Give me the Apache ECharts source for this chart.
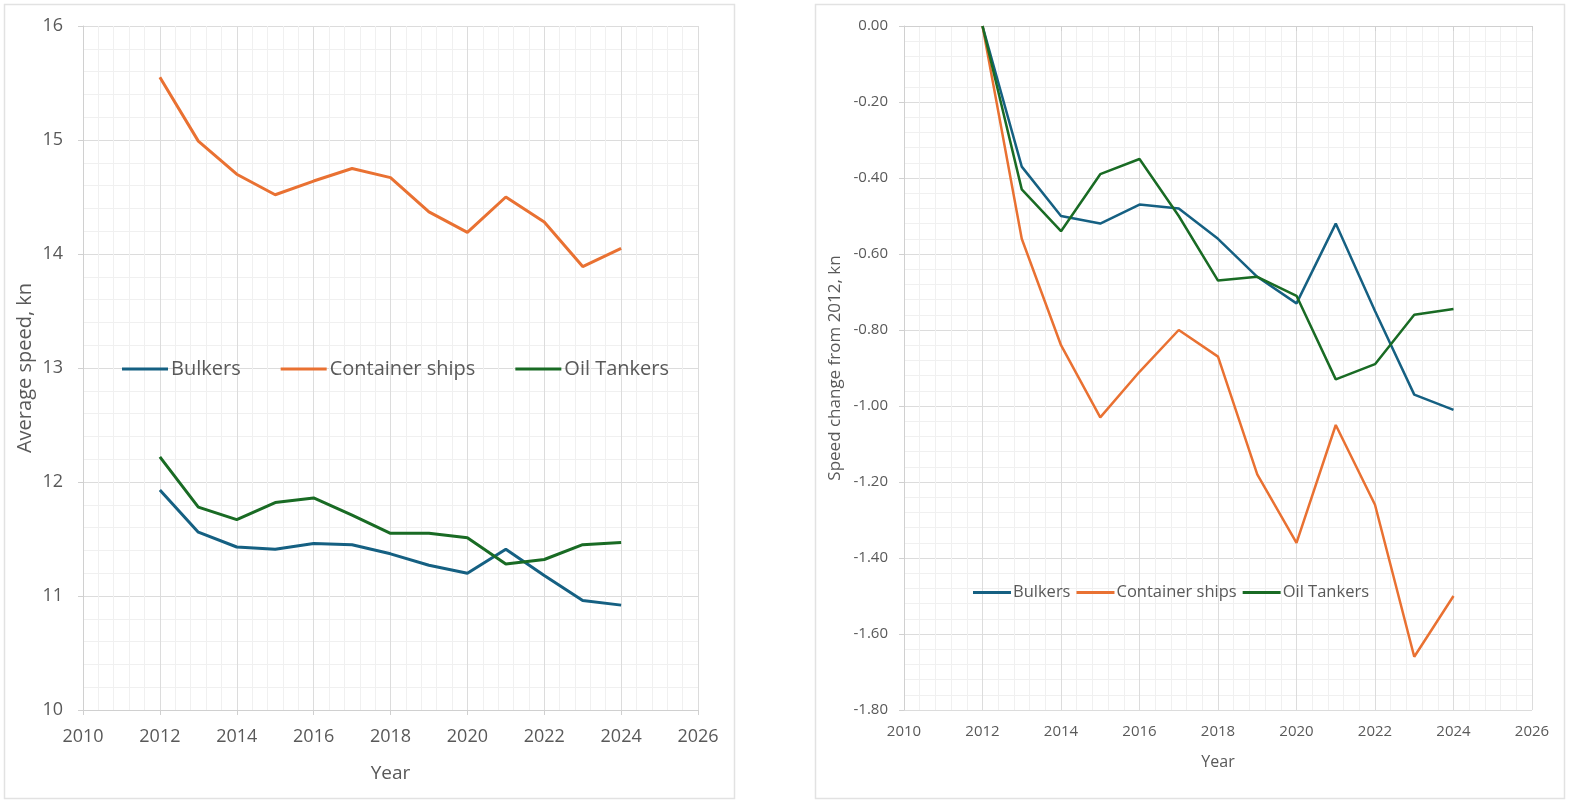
<!DOCTYPE html>
<html>
<head>
<meta charset="utf-8">
<script src="https://cdn.jsdelivr.net/npm/echarts@6/dist/echarts.min.js"></script>
<style>
html,body{margin:0;padding:0;background:#fff;}
#c{width:1576px;height:812px;}
</style>
</head>
<body>
<div id="c"></div>
<script>
const years = [2012,2013,2014,2015,2016,2017,2018,2019,2020,2021,2022,2023,2024];
const seriesNames = ['Bulkers','Container ships','Oil Tankers'];

// Left chart: average speed, kn
const bulkersSpeed   = [11.93,11.56,11.43,11.41,11.46,11.45,11.37,11.27,11.20,11.41,11.18,10.96,10.92];
const containerSpeed = [15.55,14.99,14.70,14.52,14.64,14.75,14.67,14.37,14.19,14.50,14.28,13.89,14.05];
const tankerSpeed    = [12.22,11.78,11.67,11.82,11.86,11.71,11.55,11.55,11.51,11.28,11.32,11.45,11.47];

// Right chart: speed change from 2012, kn
const bulkersChange   = [0,-0.37,-0.50,-0.52,-0.47,-0.48,-0.56,-0.66,-0.73,-0.52,-0.75,-0.97,-1.01];
const containerChange = [0,-0.56,-0.84,-1.03,-0.91,-0.80,-0.87,-1.18,-1.36,-1.05,-1.26,-1.66,-1.50];
const tankerChange    = [0,-0.43,-0.54,-0.39,-0.35,-0.50,-0.67,-0.66,-0.71,-0.93,-0.89,-0.76,-0.745];

const colors = ['#156082','#E97132','#196B24'];
const txt = '#595959';
const font = 'Open Sans';

const pairs = vals => years.map((y,i)=>[y, vals[i]]);

function xAxis(gridIndex, fs, margin, nameGap, nameFs){
  return {
    type:'value', gridIndex, min:2010, max:2026, interval:2,
    name:'Year', nameLocation:'middle', nameGap,
    nameTextStyle:{color:txt, fontSize:nameFs, fontFamily:font},
    axisLine:{show:true, lineStyle:{color:'#d0d0d0', width:1}},
    axisTick:{show:true, length:5, lineStyle:{color:'#d0d0d0'}},
    axisLabel:{color:txt, fontSize:fs, fontFamily:font, margin, formatter:v=>String(v)},
    splitLine:{show:true, lineStyle:{color:'#dcdcdc', width:1}},
    minorTick:{show:false, splitNumber:5},
    minorSplitLine:{show:true, lineStyle:{color:'#f0f0f0', width:1}}
  };
}
function yAxis(gridIndex, min, max, interval, name, fs, margin, nameGap, nameFs, fmt){
  return {
    type:'value', gridIndex, min, max, interval,
    name, nameLocation:'middle', nameGap,
    nameTextStyle:{color:txt, fontSize:nameFs, fontFamily:font},
    axisLine:{show:true, lineStyle:{color:'#d0d0d0', width:1}},
    axisTick:{show:true, length:5, lineStyle:{color:'#d0d0d0'}},
    axisLabel:{color:txt, fontSize:fs, fontFamily:font, margin, formatter:fmt},
    splitLine:{show:true, lineStyle:{color:'#dcdcdc', width:1}},
    minorTick:{show:false, splitNumber:5},
    minorSplitLine:{show:true, lineStyle:{color:'#f0f0f0', width:1}}
  };
}
function line(name, data, idx, width){
  const ci = seriesNames.indexOf(name);
  return {
    type:'line', name, data, xAxisIndex:idx, yAxisIndex:idx,
    showSymbol:false, symbol:'none',
    lineStyle:{color:colors[ci], width},
    itemStyle:{color:colors[ci]},
    z:3, animation:false
  };
}

const chart = echarts.init(document.getElementById('c'), null, {renderer:'canvas'});
chart.setOption({
  backgroundColor:'#fff',
  animation:false,
  graphic:[
    {type:'rect', shape:{x:4.5,y:4.5,width:730,height:794}, style:{fill:'none', stroke:'#e2e2e2', lineWidth:1.5}, z:-10},
    {type:'rect', shape:{x:815.5,y:4.5,width:749,height:794}, style:{fill:'none', stroke:'#e2e2e2', lineWidth:1.5}, z:-10}
  ],
  grid:[
    {left:83, right:878, top:26, bottom:102},
    {left:904, right:44, top:26, bottom:102}
  ],
  legend:[
    {
      data:seriesNames.map(n=>({name:n, icon:'rect'})),
      left:117, top:354, orient:'horizontal',
      itemWidth:46, itemHeight:3, itemGap:40,
      textStyle:{color:txt, fontSize:20, fontFamily:font, padding:[0,0,0,-2]},
      selectedMode:false
    },
    {
      data:seriesNames.map(n=>({name:n, icon:'rect'})),
      left:968, top:579, orient:'horizontal',
      itemWidth:38, itemHeight:3, itemGap:6,
      textStyle:{color:txt, fontSize:16.5, fontFamily:font, padding:[0,0,0,-3]},
      selectedMode:false
    }
  ],
  xAxis:[
    xAxis(0, 18, 18, 54, 19),
    xAxis(1, 15, 14, 44, 16)
  ],
  yAxis:[
    yAxis(0, 10, 16, 1, 'Average speed, kn', 18, 20, 48, 20, v=>String(v)),
    yAxis(1, -1.8, 0, 0.2, 'Speed change from 2012, kn', 15, 16, 60, 17, v=>v.toFixed(2))
  ],
  series:[
    line('Bulkers', pairs(bulkersSpeed), 0, 3),
    line('Container ships', pairs(containerSpeed), 0, 3),
    line('Oil Tankers', pairs(tankerSpeed), 0, 3),
    line('Bulkers', pairs(bulkersChange), 1, 2.5),
    line('Container ships', pairs(containerChange), 1, 2.5),
    line('Oil Tankers', pairs(tankerChange), 1, 2.5)
  ]
});
</script>
</body>
</html>
